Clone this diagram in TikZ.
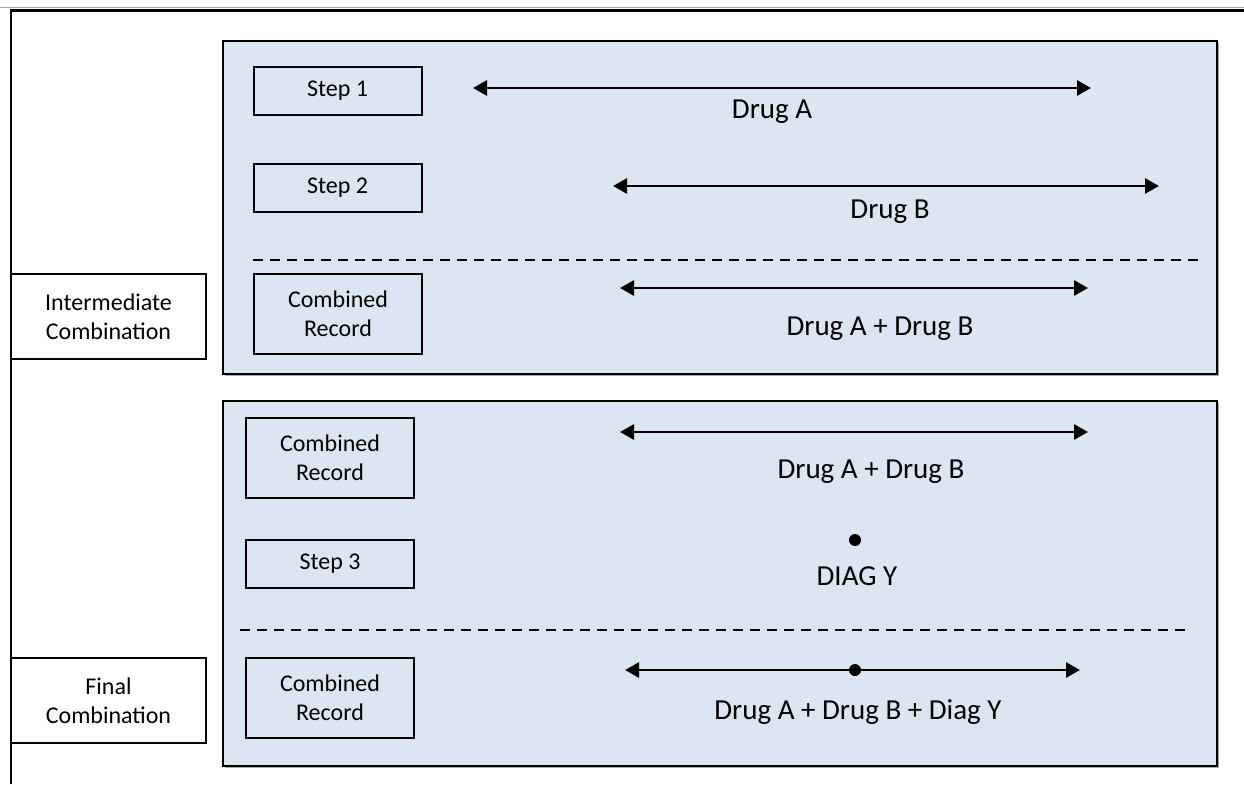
\documentclass[tikz,border=0pt]{standalone}
\usepackage{fontspec}
\setmainfont{Carlito}
\usetikzlibrary{arrows.meta,positioning}
\definecolor{tlFill}{HTML}{DCE6F2}
\definecolor{tlInk}{HTML}{000000}
\definecolor{tlShade}{HTML}{A6A6A6}
\tikzset{
 timeline/.style={line cap=butt,line join=miter,text=tlInk},
 frame/.style={draw=tlInk,line width=1.3pt},
 rule/.style={draw=tlShade,line width=.6pt},
 panel/.style={draw=tlInk,fill=tlFill,line width=1.3pt},
 shade/.style={fill=tlShade},
 stepbox/.style={draw=tlInk,fill=tlFill,line width=1pt,minimum width=84pt,minimum height=24pt,
   inner sep=0pt,align=center,font=\fontsize{12}{14.5}\selectfont},
 recbox/.style={stepbox,minimum height=40pt},
 phasebox/.style={draw=tlInk,fill=white,line width=1pt,minimum width=97.5pt,minimum height=42.5pt,
   inner sep=0pt,align=center,font=\fontsize{12}{14.5}\selectfont},
 span/.style={draw=tlInk,line width=1.4pt,
   {Triangle[length=7pt,width=7.5pt]}-{Triangle[length=7pt,width=7.5pt]}},
 divider/.style={draw=tlInk,line width=.7pt,dash pattern=on 4.75pt off 3.75pt},
 druglabel/.style={font=\fontsize{14.5}{17}\selectfont,inner sep=0pt},
 dot/.style={circle,fill=tlInk,inner sep=0pt,minimum size=6pt}
}

\begin{document}
\begin{tikzpicture}[timeline,x=.5pt,y=-.5pt]
 \useasboundingbox (0,0) rectangle (1244,784);
 % outer frame
 \draw[rule] (0,7.5)--(1244,7.5);
 \draw[frame] (11,784)--(11,10.5)--(1244,10.5);
 % two phases
 \fill[shade] (225,43) rectangle (1219,376);
 \draw[panel] (223,41) rectangle (1217,374);
 \fill[shade] (225,403) rectangle (1219,768);
 \draw[panel] (223,401) rectangle (1217,766);
 \node[phasebox] (phaseI) at (108.5,316.5) {Intermediate\\Combination};
 \node[phasebox] (phaseF) at (108.5,700.5) {Final\\Combination};
 % intermediate phase
 \node[stepbox] (step1) at (337.5,91) {Step 1};
 \node[stepbox] (step2) at (337.5,187.5) {Step 2};
 \node[recbox] (recA) at (338,314) {Combined\\Record};
 \coordinate (aL) at (473,88); \coordinate (aR) at (1091,88);
 \coordinate (bL) at (613,186); \coordinate (bR) at (1159,186);
 \coordinate (cL) at (620,288); \coordinate (cR) at (1088,288);
 \draw[span] (aL)--(aR);
 \draw[span] (bL)--(bR);
 \draw[divider] (253,260)--(1203,260);
 \draw[span] (cL)--(cR);
 \node[druglabel] (drugA) at (772,112) {Drug A};
 \node[druglabel] (drugB) at (890,212) {Drug B};
 \node[druglabel] (drugAB) at (880,329) {Drug A + Drug B};
 % final phase
 \node[recbox] (recB) at (330,457.5) {Combined\\Record};
 \node[stepbox] (step3) at (330,564) {Step 3};
 \node[recbox] (recC) at (330,698) {Combined\\Record};
 \coordinate (dL) at (620,432); \coordinate (dR) at (1088,432);
 \coordinate (fL) at (625,670); \coordinate (fR) at (1080,670);
 \draw[span] (dL)--(dR);
 \node[dot] (diagY) at (855,540) {};
 \draw[divider] (240,630)--(1190,630);
 \draw[span] (fL)--(fR);
 \node[dot] (diagF) at (855,670) {};
 \node[druglabel] (drugAB2) at (871,472) {Drug A + Drug B};
 \node[druglabel] (diagYlab) at (857,576) {DIAG Y};
 \node[druglabel] (drugABY) at (858,712) {Drug A + Drug B + Diag Y};
\end{tikzpicture}
\end{document}
